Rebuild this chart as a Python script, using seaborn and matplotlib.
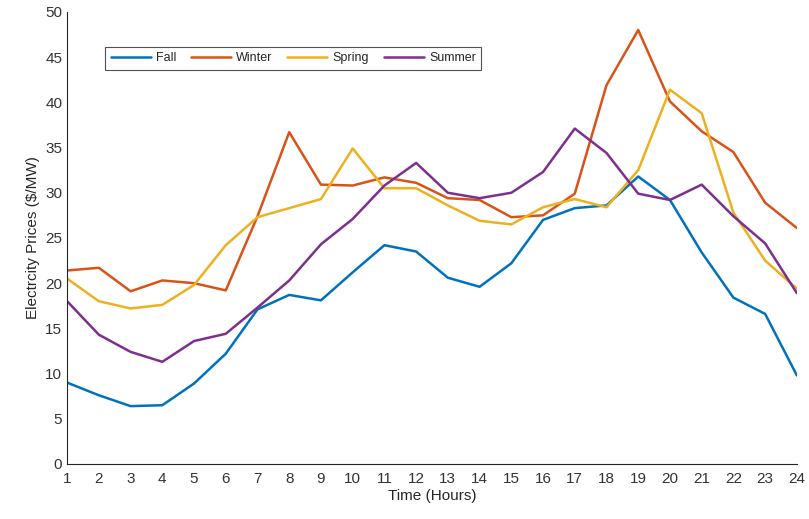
import numpy as np
import pandas as pd
import matplotlib
matplotlib.use("Agg")
import matplotlib.pyplot as plt
import seaborn as sns

# hourly electricity prices per season ($/MW)
hours = list(range(1, 25))
fall = [9.0, 7.6, 6.4, 6.5, 8.9, 12.2, 17.1, 18.7, 18.1, 21.2, 24.2, 23.5,
        20.6, 19.6, 22.2, 27.0, 28.3, 28.6, 31.8, 29.2, 23.4, 18.4, 16.6, 9.8]
winter = [21.4, 21.7, 19.1, 20.3, 20.0, 19.2, 27.4, 36.7, 30.9, 30.8, 31.7, 31.1,
          29.4, 29.2, 27.3, 27.5, 29.9, 41.9, 48.0, 40.1, 36.8, 34.5, 28.9, 26.1]
spring = [20.5, 18.0, 17.2, 17.6, 19.8, 24.2, 27.3, 28.3, 29.3, 34.9, 30.5, 30.5,
          28.6, 26.9, 26.5, 28.4, 29.3, 28.4, 32.5, 41.4, 38.8, 27.8, 22.5, 19.4]
summer = [18.0, 14.3, 12.4, 11.3, 13.6, 14.4, 17.3, 20.3, 24.3, 27.1, 30.8, 33.3,
          30.0, 29.4, 30.0, 32.3, 37.1, 34.4, 29.9, 29.2, 30.9, 27.4, 24.4, 18.9]

seasons = ["Fall", "Winter", "Spring", "Summer"]
colors = ["#0072BD", "#D95319", "#EDB120", "#7E2F8E"]

df = pd.DataFrame({
    "hour": hours * 4,
    "price": fall + winter + spring + summer,
    "season": np.repeat(seasons, len(hours)),
})

sns.set_style("white")
plt.rcParams["font.family"] = ["Liberation Sans", "DejaVu Sans"]

fig, ax = plt.subplots(figsize=(8.09, 5.19), dpi=100)
fig.subplots_adjust(left=0.083, right=0.985, top=0.977, bottom=0.106)

sns.lineplot(data=df, x="hour", y="price", hue="season", hue_order=seasons,
             palette=colors, linewidth=1.8, ax=ax)

ax.set_xlim(1, 24)
ax.set_ylim(0, 50)
ax.set_xticks(hours)
ax.set_yticks(range(0, 51, 5))
ax.tick_params(direction="in", length=5, width=0.8, labelsize=11,
               colors="#262626", labelcolor="#333333")
ax.tick_params(axis="x", pad=6)
for s in ["top", "right"]:
    ax.spines[s].set_visible(False)
for s in ["left", "bottom"]:
    ax.spines[s].set_color("#262626")
    ax.spines[s].set_linewidth(0.8)

ax.set_xlabel("Time (Hours)", fontsize=11, color="#262626", labelpad=2)
# the original figure spells it this way
ax.set_ylabel("Electrcity Prices ($/MW)", fontsize=11, color="#262626")

leg = ax.legend(loc="upper left", bbox_to_anchor=(0.052, 0.923), ncol=4,
                fontsize=9, frameon=True, fancybox=False, handlelength=3.2,
                columnspacing=1.2, handletextpad=0.4, borderpad=0.45,
                borderaxespad=0)
leg.get_frame().set_edgecolor("#262626")
leg.get_frame().set_linewidth(0.8)

fig.savefig("out.png", dpi=100)
